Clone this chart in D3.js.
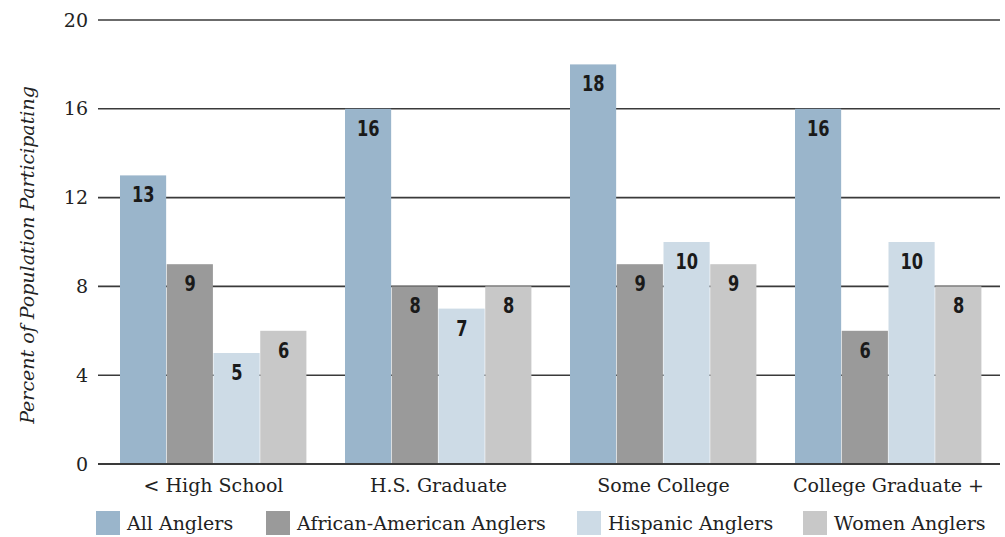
<!DOCTYPE html>
<html><head><meta charset="utf-8">
<script src="https://cdn.jsdelivr.net/npm/d3@7"></script>
<style>
html,body{margin:0;padding:0;background:#fff;}
svg{display:block;}
.serif{font-family:"DejaVu Serif","Liberation Serif",serif;}
</style></head>
<body>
<svg id="c" width="1005" height="537"></svg>
<script>
const categories = ["< High School","H.S. Graduate","Some College","College Graduate +"];
const seriesNames = ["All Anglers","African-American Anglers","Hispanic Anglers","Women Anglers"];
const allAnglers = [13,16,18,16];
const africanAmerican = [9,8,9,6];
const hispanic = [5,7,10,10];
const women = [6,8,9,8];
const yTicks = [0,4,8,12,16,20];
const colors = ["#9ab5cb","#9a9a9a","#cddbe6","#c8c8c8"];
const seriesValues = [allAnglers, africanAmerican, hispanic, women];

const svg = d3.select("#c");
const y = d3.scaleLinear().domain([0,20]).range([464,20]);
const x0 = d3.scaleBand().domain(categories).range([120,982]).paddingInner(38/225).paddingOuter(0);
const x1 = d3.scaleBand().domain(seriesNames).range([0,x0.bandwidth()]).padding(0);

// gridlines
svg.append("g").selectAll("line").data(yTicks).join("line")
  .attr("x1",98).attr("x2",1000)
  .attr("y1",d=>y(d)).attr("y2",d=>y(d))
  .attr("stroke","#3a3a3a").attr("stroke-width",1.6);

// tick labels
svg.append("g").selectAll("text").data(yTicks).join("text")
  .attr("class","serif")
  .attr("x",88).attr("y",d=>y(d)).attr("dy","0.35em")
  .attr("text-anchor","end").attr("font-size",19).attr("fill","#222")
  .text(d=>d);

// bars
const rows = [];
categories.forEach((c,i)=>seriesNames.forEach((s,j)=>rows.push({c,s,j,v:seriesValues[j][i]})));
const g = svg.append("g");
g.selectAll("rect").data(rows).join("rect")
  .attr("x",d=>x0(d.c)+x1(d.s)).attr("width",x1.bandwidth()-0.6)
  .attr("y",d=>y(d.v)).attr("height",d=>y(0)-y(d.v))
  .attr("fill",d=>colors[d.j]);
g.selectAll("text").data(rows).join("text")
  .attr("transform",d=>`translate(${x0(d.c)+x1(d.s)+x1.bandwidth()/2},${y(d.v)+27}) scale(0.82,1)`)
  .attr("text-anchor","middle")
  .attr("font-family","'DejaVu Sans Condensed','DejaVu Sans',sans-serif")
  .attr("font-stretch","condensed")
  .attr("font-weight","bold").attr("font-size",22).attr("fill","#1a1a1a")
  .text(d=>d.v);

// baseline
svg.append("line").attr("x1",98).attr("x2",1000).attr("y1",y(0)).attr("y2",y(0))
  .attr("stroke","#3a3a3a").attr("stroke-width",1.8);

// category labels
svg.append("g").selectAll("text").data(categories).join("text")
  .attr("class","serif")
  .attr("x",d=>x0(d)+x0.bandwidth()/2).attr("y",492)
  .attr("text-anchor","middle").attr("font-size",19).attr("fill","#222")
  .text(d=>d);

// y axis title
svg.append("text").attr("class","serif")
  .attr("transform","translate(34,255) rotate(-90)")
  .attr("text-anchor","middle").attr("font-size",19).attr("font-style","italic").attr("fill","#222")
  .text("Percent of Population Participating");

// legend
const legX = [96,266,577,803];
const leg = svg.append("g").selectAll("g").data(seriesNames).join("g")
  .attr("transform",(d,i)=>`translate(${legX[i]},511)`);
leg.append("rect").attr("width",24).attr("height",24).attr("fill",(d,i)=>colors[i]);
leg.append("text").attr("class","serif").attr("x",31).attr("y",19)
  .attr("font-size",19).attr("fill","#222").text(d=>d);
</script>
</body></html>
